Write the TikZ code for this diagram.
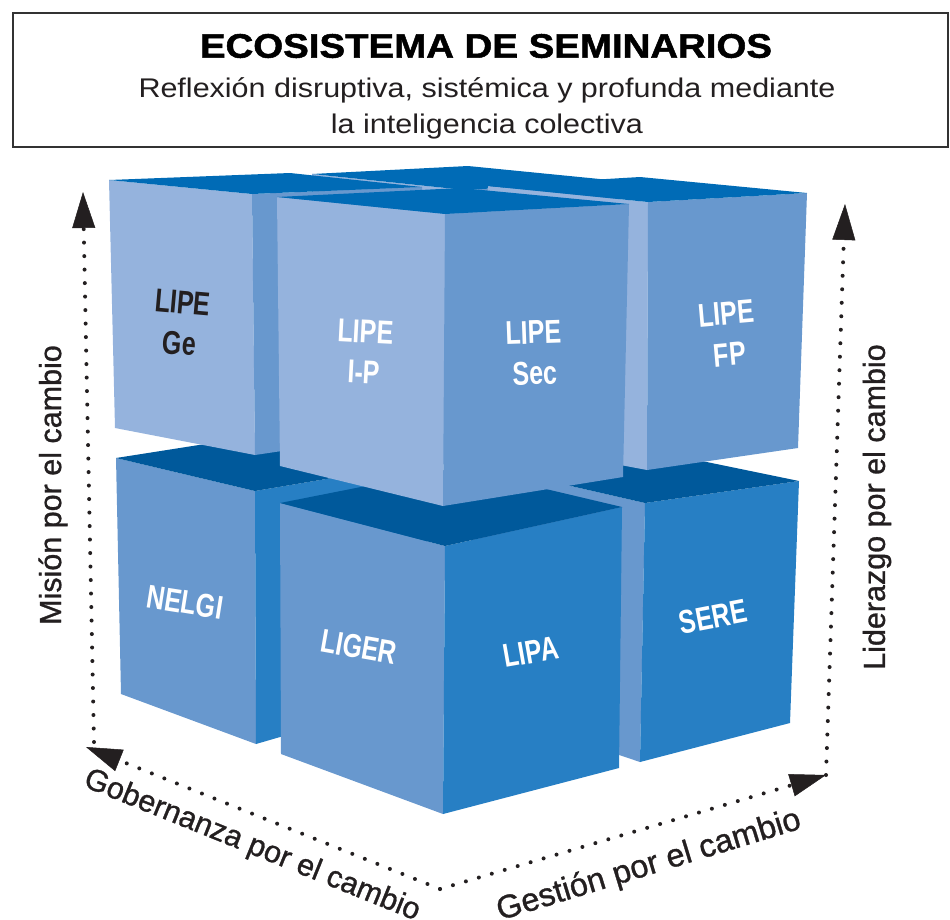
\documentclass[tikz,border=0pt]{standalone}
\usepackage{fontspec}
\setmainfont{Liberation Sans}
\newfontfamily\headfont[FakeStretch=1.13,BoldFeatures={FakeBold=1.5}]{Liberation Sans}
\newfontfamily\axisfont[FakeBold=1]{Liberation Sans}
\newfontfamily\cubefont[FakeStretch=0.76]{Liberation Sans}
\usetikzlibrary{arrows.meta}

\definecolor{ink}{HTML}{231F20}
\definecolor{upleft}{HTML}{95B3DD}
\definecolor{upright}{HTML}{6898CE}
\definecolor{uptop}{HTML}{006BB6}
\definecolor{lowleft}{HTML}{6898CE}
\definecolor{lowright}{HTML}{277FC4}
\definecolor{lowtop}{HTML}{00599B}

% #1 layer, then corners l f r b lb fb rb
\newcommand\cubeblock[8]{%
  \fill[#1left] (#2) -- (#3) -- (#7) -- (#6) -- cycle;
  \fill[#1right] (#3) -- (#4) -- (#8) -- (#7) -- cycle;
  \fill[#1top] (#2) -- (#3) -- (#4) -- (#5) -- cycle;}

\tikzset{
  axisline/.style={ink, line width=4pt, line cap=round, dash pattern=on 0pt off 13.5pt,
    -{Triangle[length=36pt,width=23pt,line width=0.5pt]}},
  axislabel/.style={ink, inner sep=0pt, font=\axisfont\fontsize{30.5}{36}\selectfont},
  cubelabel/.style={white, inner sep=0pt, align=center, font=\cubefont\bfseries\fontsize{33}{41}\selectfont},
}

\begin{document}
\begin{tikzpicture}[x=1pt,y=-1pt]
\useasboundingbox (0,0) rectangle (950,919);

\node[draw=black!80, line width=2pt, minimum width=935pt, minimum height=134pt] (frame) at (480.5,80) {};
\node[inner sep=0pt, font=\headfont\bfseries\fontsize{34}{40}\selectfont] (title) at (486,46) {ECOSISTEMA DE SEMINARIOS};
\node[ink, anchor=base, inner sep=0pt, font=\headfont\fontsize{27}{36}\selectfont] (sub1) at (487,97) {Reflexión disruptiva, sistémica y profunda mediante};
\node[ink, anchor=base, inner sep=0pt, font=\headfont\fontsize{27}{36}\selectfont] (sub2) at (487,133) {la inteligencia colectiva};

% lower layer
\cubeblock{low}{116,458}{255,491}{427,462}{288,431}{121,694}{256,744}{428,694}
\cubeblock{low}{475,464}{645,503}{799,481}{629,446}{470,705}{640,762}{790,723}
\cubeblock{low}{280,503}{445,546}{622,507}{457,468}{281,754}{443,814}{619,768}

% upper layer
\cubeblock{up}{312,174}{465,190}{620,181}{468,166}{315,430}{465,470}{618,440}
\cubeblock{up}{109,180}{252,194}{422,187}{290,173}{115,428}{255,455}{423,430}
\cubeblock{up}{488,186}{648,202}{807,193}{640,177}{487,440}{647,470}{798,448}
\cubeblock{up}{277,197}{445,214}{629,204}{461,188}{280,466}{443,506}{623,477}

\node[cubelabel, ink, rotate=-5] (ge) at (181,323) {LIPE\\Ge};
\node[cubelabel, rotate=-3] (ip) at (365,352) {LIPE\\I-P};
\node[cubelabel, rotate=2] (sec) at (534,353) {LIPE\\Sec};
\node[cubelabel, rotate=5] (fp) at (728,334) {LIPE\\FP};
\node[cubelabel, rotate=-9] (nelgi) at (185,602) {NELGI};
\node[cubelabel, rotate=-10] (liger) at (359,647) {LIGER};
\node[cubelabel, rotate=10] (lipa) at (531,652) {LIPA};
\node[cubelabel, rotate=11] (sere) at (713,617) {SERE};

\coordinate (corner) at (440,889);
\coordinate (gobtip) at (86,747);
\coordinate (gestip) at (826,775);
\coordinate (misfoot) at (94,742);
\coordinate (mistip) at (83,192);
\coordinate (lidtip) at (845,204);
\draw[axisline] (corner) -- (gobtip);
\draw[axisline] (corner) -- (gestip);
\draw[axisline] (misfoot) -- (mistip);
\draw[axisline] (gestip) -- (lidtip);

\node[axislabel, rotate=90] (mision) at (53,485) {Misión por el cambio};
\node[axislabel, rotate=90] (liderazgo) at (877,507) {Liderazgo por el cambio};
\node[axislabel, rotate=-22] (gobernanza) at (252,846) {Gobernanza por el cambio};
\node[axislabel, rotate=17, font=\axisfont\fontsize{32.5}{36}\selectfont] (gestion) at (649,866) {Gestión por el cambio};

\end{tikzpicture}
\end{document}
